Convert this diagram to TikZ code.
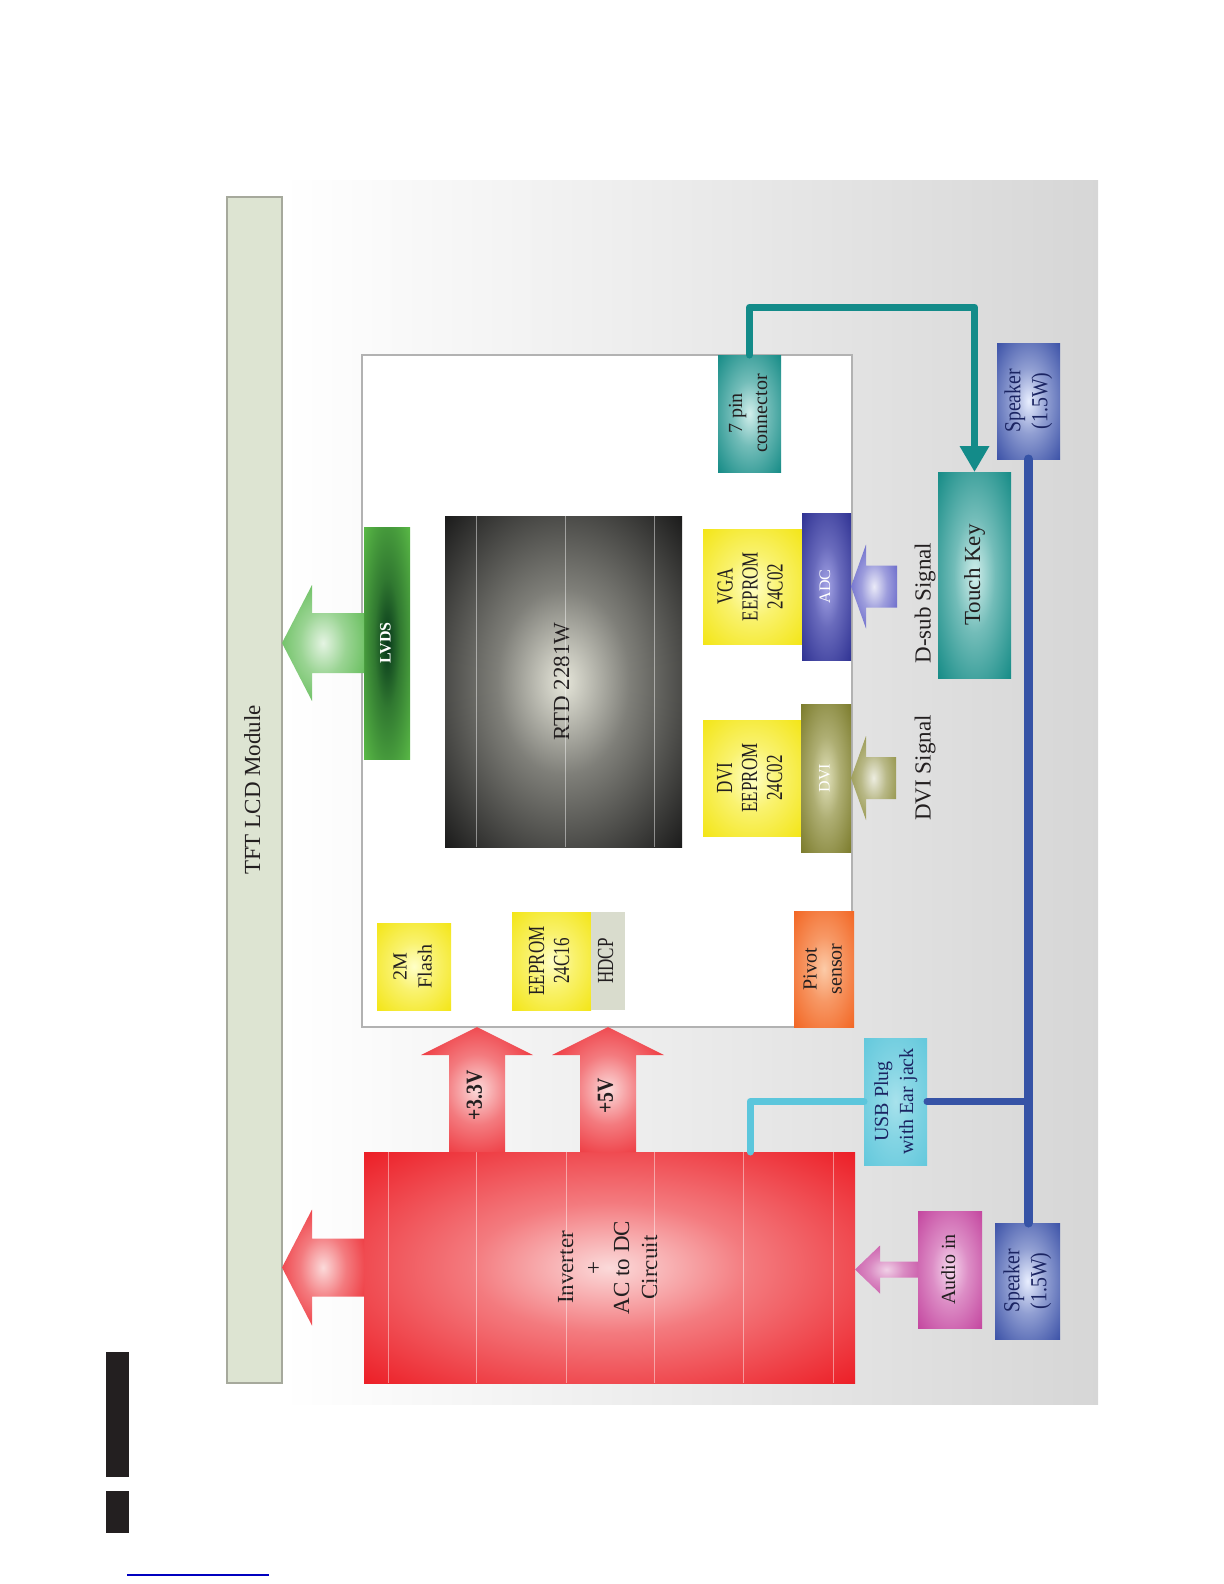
\documentclass[tikz,border=0pt]{standalone}
\usepackage{fontspec}
\setmainfont{Liberation Serif}
\newfontfamily\narrowfont[FakeStretch=0.74]{Liberation Serif}
\newfontfamily\condfont[FakeStretch=0.86]{Liberation Serif}
\usepackage{graphicx}
\usepackage{xcolor}
\usetikzlibrary{positioning,calc,arrows.meta}
\definecolor{ink}{HTML}{231F20}
\definecolor{navy}{HTML}{1B2462}
\definecolor{tftbg}{HTML}{DDE4D2}
\definecolor{tftline}{HTML}{A6A99C}
\definecolor{lvdsin}{HTML}{06361A}
\definecolor{lvdsout}{HTML}{5BBB47}
\definecolor{arrgreen}{HTML}{4FB443}
\definecolor{rtdin}{HTML}{E6E6DA}
\definecolor{rtdout}{HTML}{181818}
\definecolor{yelin}{HTML}{FFFFC8}
\definecolor{yelout}{HTML}{F3E514}
\definecolor{redin}{HTML}{FBDADA}
\definecolor{redout}{HTML}{EC1C24}
\definecolor{tealin}{HTML}{D2EFEC}
\definecolor{tealout}{HTML}{138A85}
\definecolor{adcin}{HTML}{A4A4E6}
\definecolor{adcout}{HTML}{2E3192}
\definecolor{dviin}{HTML}{E2E2BC}
\definecolor{dviout}{HTML}{7A7A2A}
\definecolor{pivin}{HTML}{FCCBA8}
\definecolor{pivout}{HTML}{F26522}
\definecolor{usbin}{HTML}{A8E2EC}
\definecolor{usbout}{HTML}{62C8DC}
\definecolor{audin}{HTML}{F6D8EE}
\definecolor{audout}{HTML}{C3449E}
\definecolor{spkin}{HTML}{E8EEFF}
\definecolor{spkout}{HTML}{3A50A6}
\definecolor{hdcpgray}{HTML}{D9DCCD}
\definecolor{vgaarr}{HTML}{5252C2}
\definecolor{dviarr}{HTML}{858530}
\definecolor{tealline}{HTML}{138B89}
\definecolor{cyanline}{HTML}{5CC6DC}
\definecolor{blueline}{HTML}{3653A6}
\definecolor{barink}{HTML}{231F20}
\colorlet{glowin}{white}
\colorlet{glowmid}{gray}
\colorlet{glowout}{black}
\pgfdeclareradialshading[glowin,glowmid,glowout]{glow}{\pgfpoint{0bp}{0bp}}{color(0bp)=(glowin); color(14bp)=(glowmid); color(36bp)=(glowout); color(50bp)=(glowout)}
\newcommand\rot[1]{\rotatebox{90}{\begin{tabular}{@{}c@{}}#1\end{tabular}}}
\newcommand\fatarrow[6]{%
  \coordinate (fabase) at ($(#3)!#6!(#2)$);
  \path[#1] ($(#2)!#4!90:(#3)$) -- ($(fabase)!#4!90:(#3)$) -- ($(fabase)!#5!90:(#3)$)
    -- (#3) -- ($(fabase)!#5!-90:(#3)$) -- ($(fabase)!#4!-90:(#3)$) -- ($(#2)!#4!-90:(#3)$) -- cycle;}
\tikzset{
  glow/.style 2 args = {/utils/exec={\colorlet{glowin}{#1}\colorlet{glowmid}{#1!50!#2}\colorlet{glowout}{#2}}, shade, shading=glow},
  box/.style     = {inner sep=0pt, outer sep=0pt, text=ink},
  lab/.style     = {font=\fontsize{10}{12.5}\selectfont},
  big/.style     = {font=\fontsize{11.5}{14}\selectfont},
  narrow/.style  = {font=\fontsize{11.5}{12.5}\selectfont\narrowfont},
  spk/.style     = {font=\fontsize{11.5}{13.5}\selectfont\condfont, text=navy},
  chiplab/.style = {font=\fontsize{8}{9}\selectfont, text=white},
  volt/.style    = {font=\fontsize{11.5}{12}\selectfont\condfont\bfseries, text=ink, inner sep=0pt},
  pipe/.style    = {line width=3.5pt, line cap=round, line join=round},
  seam/.style    = {draw=white, line width=0.4pt, opacity=0.45},
}
\begin{document}
\begin{tikzpicture}[x=0.5pt,y=-0.5pt]
\path[use as bounding box] (0,0) rectangle (1224,1584);

% ---- backdrop ------------------------------------------------------------
\shade[left color=white, right color=black!16] (282,180) rectangle (1098,1404);
\fill[barink] (106,1352) rectangle (129,1477);
\fill[barink] (106,1491) rectangle (129,1533);
\draw[blue!75!black, line width=0.8pt] (127,1575) -- (269,1575);

% ---- panel and board -----------------------------------------------------
\node[box, minimum width=27.5pt, minimum height=593pt, fill=tftbg, draw=tftline, line width=0.6pt, big] (tft) at (254.5,790) {\rot{TFT LCD Module}};
\node[box, minimum width=245pt, minimum height=336pt, fill=white, draw=black!30, line width=0.6pt] (board) at (607,691) {};

% ---- on the board --------------------------------------------------------
\node[box, minimum width=23pt, minimum height=116pt, glow={lvdsin}{lvdsout}, font=\fontsize{8}{9}\selectfont\bfseries, text=white] (lvds) at (387,643) {\rot{LVDS}};
\node[box, minimum width=118.5pt, minimum height=165.5pt, glow={rtdin}{rtdout}, big] (rtd) at (563.5,681.5) {\rot{RTD 2281W}};
\foreach \sx in {476,565,654}{ \draw[seam] (\sx,516) -- (\sx,847); }

\node[box, minimum width=37pt, minimum height=43.5pt, glow={yelin}{yelout}, lab] (flash) at (414,966.5) {\rot{2M\\Flash}};
\node[box, minimum width=39.5pt, minimum height=49pt, glow={yelin}{yelout}, narrow] (eep) at (551.5,961) {\rot{EEPROM\\24C16}};
\node[box, minimum width=17pt, minimum height=49pt, fill=hdcpgray, narrow, right=0pt of eep] (hdcp) {\rot{HDCP}};

\node[box, minimum width=49.5pt, minimum height=57.5pt, glow={yelin}{yelout}, narrow] (vgaeep) at (752.5,586.5) {\rot{VGA\\EEPROM\\24C02}};
\node[box, minimum width=24.5pt, minimum height=73.5pt, glow={adcin}{adcout}, chiplab, right=0pt of vgaeep] (adc) {\rot{ADC}};
\node[box, minimum width=49pt, minimum height=58pt, glow={yelin}{yelout}, narrow] (dvieep) at (752,778) {\rot{DVI\\EEPROM\\24C02}};
\node[box, minimum width=25pt, minimum height=74pt, glow={dviin}{dviout}, chiplab, right=0pt of dvieep] (dvi) {\rot{DVI}};
\node[box, minimum width=30pt, minimum height=58pt, glow={pivin}{pivout}, lab] (pivot) at (824,969) {\rot{Pivot\\sensor}};
\node[box, minimum width=31.5pt, minimum height=58.5pt, glow={tealin}{tealout}, lab] (pin) at (749.5,413.5) {\rot{7 pin\\connector}};

% ---- outside the board ---------------------------------------------------
\node[box, minimum width=36.5pt, minimum height=103pt, glow={tealin}{tealout}, big] (touch) at (974.5,575) {\rot{Touch Key}};
\node[box, minimum width=31.5pt, minimum height=58pt, glow={spkin}{spkout}, spk] (spktop) at (1028.5,401) {\rot{Speaker\\(1.5W)}};
\node[box, minimum width=32.5pt, minimum height=58pt, glow={spkin}{spkout}, spk] (spkbot) at (1027.5,1281) {\rot{Speaker\\(1.5W)}};
\node[box, minimum width=31.5pt, minimum height=63.5pt, glow={usbin}{usbout}, lab, text=navy] (usb) at (895.5,1101.5) {\rot{USB Plug\\with Ear jack}};
\node[box, minimum width=32pt, minimum height=58.5pt, glow={audin}{audout}, lab] (audio) at (950,1269.5) {\rot{Audio in}};
\node[box, minimum width=245.5pt, minimum height=115.5pt, glow={redin}{redout}, big] (red) at (609.5,1267.5) {\rot{Inverter\\+\\AC to DC\\Circuit}};
\foreach \sx in {388,476,566,654,743,833}{ \draw[seam] (\sx,1152) -- (\sx,1383); }

\node[big, text=ink] (dsub) at (925,603) {\rot{D-sub Signal}};
\node[big, text=ink] (dvisig) at (925,768) {\rot{DVI Signal}};

% ---- block arrows --------------------------------------------------------
\coordinate (lvdstip) at (tft.east |- lvds.west);
\fatarrow{glow={arrgreen!15!white}{arrgreen}}{lvds.west}{lvdstip}{15pt}{29pt}{15pt}
\coordinate (pwrtip) at (tft.east |- red.west);
\fatarrow{glow={redin}{redout}}{red.west}{pwrtip}{14.5pt}{29pt}{15pt}

\coordinate (v33tail) at ($(red.north west)+(113,0)$);
\coordinate (v33tip) at (v33tail |- board.south);
\fatarrow{glow={redin}{redout}}{v33tail}{v33tip}{14pt}{28pt}{14pt}
\node[volt] (v33) at ($(v33tail)!0.45!(v33tip)$) {\rot{+3.3V}};
\coordinate (v5tail) at ($(red.north west)+(244,0)$);
\coordinate (v5tip) at (v5tail |- board.south);
\fatarrow{glow={redin}{redout}}{v5tail}{v5tip}{14pt}{28pt}{14pt}
\node[volt] (v5) at ($(v5tail)!0.45!(v5tip)$) {\rot{+5V}};

\coordinate (vgain) at ($(adc.east)+(46,0)$);
\fatarrow{glow={vgaarr!12!white}{vgaarr}}{vgain}{adc.east}{10.5pt}{21pt}{7.5pt}
\coordinate (dviin) at ($(dvi.east)+(45,0)$);
\fatarrow{glow={dviarr!15!white}{dviarr}}{dviin}{dvi.east}{10.5pt}{21pt}{7.5pt}
\coordinate (audiotip) at (red.east |- audio.west);
\fatarrow{glow={audout!25!white}{audout}}{audio.west}{audiotip}{4pt}{12pt}{12.5pt}

% ---- wiring --------------------------------------------------------------
\draw[pipe, tealline, -{Triangle[length=13pt,width=14pt]}] (pin.north) -- ++(0,-48) -| (touch.north);
\coordinate (usbtap) at ($(red.north west)+(386,0)$);
\draw[pipe, cyanline] (usbtap) |- (usb.west);
\draw[pipe, blueline, line width=4.5pt] (spktop.south) -- (spktop.south |- spkbot.north);
\draw[pipe, blueline] (usb.east) -- (usb.east -| spktop.south);

\end{tikzpicture}
\end{document}
